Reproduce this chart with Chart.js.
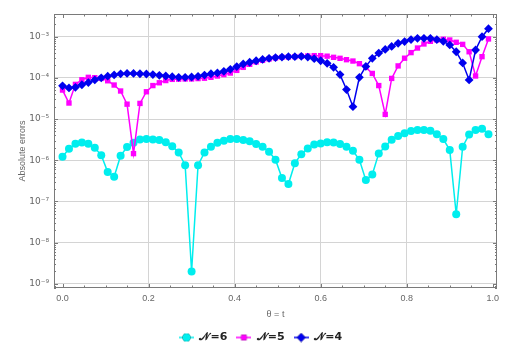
<!DOCTYPE html>
<html>
<head>
<meta charset="utf-8">
<script src="https://cdn.jsdelivr.net/npm/chart.js@4.4.0/dist/chart.umd.min.js"></script>
<style>
  html, body { margin: 0; padding: 0; background: #fff; }
</style>
</head>
<body>
<canvas id="errChart" width="522" height="348"></canvas>
<script>
// ===== data =====
const thetaValues = [
  0, 0.015, 0.03, 0.045, 0.06, 0.075, 0.09, 0.105, 0.12, 0.135,
  0.15, 0.165, 0.18, 0.195, 0.21, 0.225, 0.24, 0.255, 0.27, 0.285,
  0.3, 0.315, 0.33, 0.345, 0.36, 0.375, 0.39, 0.405, 0.42, 0.435,
  0.45, 0.465, 0.48, 0.495, 0.51, 0.525, 0.54, 0.555, 0.57, 0.585,
  0.6, 0.615, 0.63, 0.645, 0.66, 0.675, 0.69, 0.705, 0.72, 0.735,
  0.75, 0.765, 0.78, 0.795, 0.81, 0.825, 0.84, 0.855, 0.87, 0.885,
  0.9, 0.915, 0.93, 0.945, 0.96, 0.975, 0.99
];

// N = 6
const errN6 = [
  1.22e-6, 1.9e-6, 2.5e-6, 2.7e-6, 2.5e-6, 2.0e-6, 1.33e-6, 5.2e-7, 4.0e-7, 1.29e-6,
  2.1e-6, 2.66e-6, 3.2e-6, 3.3e-6, 3.2e-6, 3.1e-6, 2.75e-6, 2.2e-6, 1.55e-6, 7.6e-7,
  2.0e-9, 7.6e-7, 1.55e-6, 2.14e-6, 2.66e-6, 2.98e-6, 3.3e-6, 3.3e-6, 3.1e-6, 2.9e-6,
  2.47e-6, 2.14e-6, 1.6e-6, 1.03e-6, 3.7e-7, 2.65e-7, 8.5e-7, 1.4e-6, 1.94e-6, 2.4e-6,
  2.57e-6, 2.75e-6, 2.7e-6, 2.47e-6, 2.14e-6, 1.7e-6, 1.03e-6, 3.3e-7, 4.5e-7, 1.47e-6,
  2.17e-6, 3.16e-6, 3.86e-6, 4.5e-6, 5.1e-6, 5.4e-6, 5.4e-6, 5.2e-6, 4.3e-6, 3.27e-6,
  1.77e-6, 4.9e-8, 2.14e-6, 4.2e-6, 5.4e-6, 5.8e-6, 4.3e-6
];

// N = 5
const errN5 = [
  5.06e-5, 2.45e-5, 6.95e-5, 9.0e-5, 1.03e-4, 1.01e-4, 9.7e-5, 8.5e-5, 6.7e-5, 4.8e-5,
  2.3e-5, 1.45e-6, 2.4e-5, 4.6e-5, 6.5e-5, 7.6e-5, 8.6e-5, 9.2e-5, 9.3e-5, 9.4e-5,
  9.4e-5, 9.6e-5, 9.8e-5, 1.03e-4, 1.11e-4, 1.2e-4, 1.31e-4, 1.52e-4, 1.8e-4, 2.13e-4,
  2.43e-4, 2.66e-4, 2.87e-4, 3.04e-4, 3.15e-4, 3.2e-4, 3.27e-4, 3.33e-4, 3.4e-4, 3.46e-4,
  3.46e-4, 3.36e-4, 3.15e-4, 2.98e-4, 2.76e-4, 2.56e-4, 2.21e-4, 1.8e-4, 1.28e-4, 6.5e-5,
  1.3e-5, 9.7e-5, 1.95e-4, 3.0e-4, 4.1e-4, 5.3e-4, 6.65e-4, 7.7e-4, 8.3e-4, 8.65e-4,
  8.3e-4, 7.3e-4, 6.5e-4, 4.3e-4, 1.11e-4, 3.27e-4, 8.8e-4
];

// N = 4
const errN4 = [
  6.4e-5, 5.7e-5, 5.9e-5, 6.8e-5, 7.7e-5, 8.9e-5, 1.0e-4, 1.1e-4, 1.18e-4, 1.25e-4,
  1.28e-4, 1.28e-4, 1.26e-4, 1.24e-4, 1.2e-4, 1.15e-4, 1.11e-4, 1.07e-4, 1.03e-4, 1.03e-4,
  1.05e-4, 1.09e-4, 1.17e-4, 1.26e-4, 1.32e-4, 1.44e-4, 1.61e-4, 1.88e-4, 2.17e-4, 2.39e-4,
  2.6e-4, 2.8e-4, 2.98e-4, 3.1e-4, 3.2e-4, 3.27e-4, 3.27e-4, 3.33e-4, 3.2e-4, 2.92e-4,
  2.6e-4, 2.25e-4, 1.8e-4, 1.2e-4, 5.2e-5, 2.0e-5, 1.03e-4, 1.9e-4, 2.98e-4, 4.0e-4,
  4.9e-4, 5.8e-4, 6.9e-4, 7.6e-4, 8.5e-4, 9.1e-4, 9.1e-4, 9.1e-4, 8.5e-4, 7.7e-4,
  6.3e-4, 4.3e-4, 2.3e-4, 8.9e-5, 4.75e-4, 1.0e-3, 1.56e-3
];

const seriesNames = ["𝒩=6", "𝒩=5", "𝒩=4"];
const xTickValues = [0, 0.2, 0.4, 0.6, 0.8, 1.0];
const yTickExponents = [-9, -8, -7, -6, -5, -4, -3];

// ===== style =====
const colors = ["#00eeee", "#ff00ff", "#0000ee"];
const markers = ["circle", "rect", "rectRot"];
const markerSizes = [4, 3.8, 4.4];
const axisFont = "'Liberation Sans', Arial, sans-serif";
const SUP = { "-": "⁻", "0": "⁰", "1": "¹", "2": "²", "3": "³", "4": "⁴", "5": "⁵", "6": "⁶", "7": "⁷", "8": "⁸", "9": "⁹" };

function supExp(e) {
  return "10" + String(e).split("").map(ch => SUP[ch]).join("");
}

// small legend icon: line with the marker in the middle
function legendIcon(color, style, r) {
  const c = document.createElement("canvas");
  c.width = 15;
  c.height = 10;
  const g = c.getContext("2d");
  g.strokeStyle = color;
  g.lineWidth = 1.5;
  g.beginPath();
  g.moveTo(0, 5);
  g.lineTo(15, 5);
  g.stroke();
  Chart.helpers.drawPoint(g, { pointStyle: style, radius: r, borderWidth: 0 }, 7.5, 5);
  g.fillStyle = color;
  g.fill();
  return c;
}

// frame + inward ticks like the original plot
const framePlugin = {
  id: "framePlugin",
  afterDatasetsDraw(chart) {
    const { ctx, chartArea: { left, right, top, bottom }, scales: { x, y } } = chart;
    ctx.save();
    ctx.strokeStyle = "#7a7a7a";
    ctx.lineWidth = 1;
    ctx.strokeRect(left + 0.5, top + 0.5, right - left - 1, bottom - top - 1);

    ctx.beginPath();
    for (let k = 0; k <= 20; k++) {
      const px = Math.round(x.getPixelForValue(k * 0.05)) + 0.5;
      const len = k % 4 === 0 ? 4 : 2.5;
      ctx.moveTo(px, bottom);
      ctx.lineTo(px, bottom - len);
      ctx.moveTo(px, top);
      ctx.lineTo(px, top + len);
    }
    for (let e = -10; e <= -2; e++) {
      for (let m = 1; m <= 9; m++) {
        const v = m * Math.pow(10, e);
        if (v < y.min || v > y.max) continue;
        const py = Math.round(y.getPixelForValue(v)) + 0.5;
        const len = m === 1 ? 4 : 2;
        ctx.moveTo(left, py);
        ctx.lineTo(left + len, py);
        ctx.moveTo(right, py);
        ctx.lineTo(right - len, py);
      }
    }
    ctx.stroke();
    ctx.restore();
  }
};

const seriesValues = [errN6, errN5, errN4];

const datasets = seriesValues.map((vals, i) => ({
  label: seriesNames[i],
  data: thetaValues.map((t, k) => ({ x: t, y: vals[k] })),
  borderColor: colors[i],
  backgroundColor: colors[i],
  pointBackgroundColor: colors[i],
  pointBorderColor: colors[i],
  pointBorderWidth: 0,
  pointStyle: markers[i],
  pointRadius: markerSizes[i],
  borderWidth: 1.5,
  tension: 0,
  order: 3 - i
}));

new Chart(document.getElementById("errChart"), {
  type: "line",
  data: { datasets },
  options: {
    responsive: false,
    animation: false,
    layout: { padding: { top: 14, right: 25, left: 24, bottom: -5 } },
    scales: {
      x: {
        type: "linear",
        min: -0.0198,
        max: 1.0098,
        afterBuildTicks: s => { s.ticks = xTickValues.map(v => ({ value: v })); },
        afterFit: s => { s.height = 35; },
        ticks: {
          padding: 5,
          color: "#666",
          font: { family: axisFont, size: 9 },
          callback: v => Number(v).toFixed(1)
        },
        grid: {
          drawTicks: false,
          color: c => (c.tick && (c.tick.value === 0 || c.tick.value === 1)) ? "rgba(0,0,0,0)" : "#d4d4d4"
        },
        border: { display: false },
        title: {
          display: true,
          text: "θ = t",
          color: "#666",
          font: { family: axisFont, size: 9 },
          padding: { top: 0, bottom: 3 }
        }
      },
      y: {
        type: "logarithmic",
        min: Math.pow(10, -9.1),
        max: Math.pow(10, -2.45),
        afterBuildTicks: s => { s.ticks = yTickExponents.map(e => ({ value: Math.pow(10, e) })); },
        afterFit: s => { s.width = 30; },
        ticks: {
          padding: 5,
          color: "#666",
          font: { family: "'DejaVu Sans', sans-serif", size: 9 },
          callback: v => supExp(Math.round(Math.log10(v)))
        },
        grid: { drawTicks: false, color: "#d4d4d4" },
        border: { display: false },
        title: {
          display: true,
          text: "Absolute errors",
          color: "#666",
          font: { family: axisFont, size: 9 },
          padding: { top: -7, bottom: 0 }
        }
      }
    },
    plugins: {
      tooltip: { enabled: false },
      legend: {
        position: "bottom",
        labels: {
          usePointStyle: true,
          pointStyleWidth: 15,
          padding: 9,
          color: "#222",
          font: { family: "'DejaVu Sans', sans-serif", size: 11, weight: "bold" },
          generateLabels: chart => chart.data.datasets.map((ds, i) => ({
            text: ds.label,
            pointStyle: legendIcon(colors[i], markers[i], markerSizes[i]),
            fillStyle: colors[i],
            strokeStyle: colors[i],
            lineWidth: 0,
            fontColor: "#222",
            datasetIndex: i
          }))
        }
      }
    }
  },
  plugins: [framePlugin]
});
</script>
</body>
</html>
